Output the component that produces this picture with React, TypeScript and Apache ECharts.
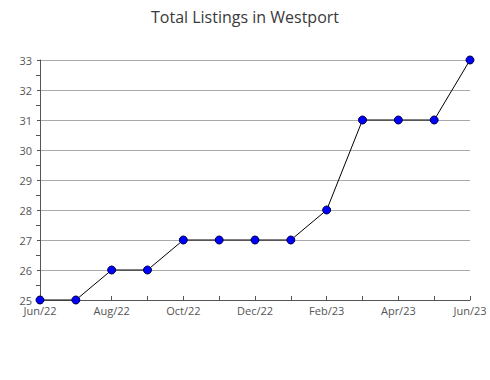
import React, { useEffect, useRef } from "react";
import * as echarts from "echarts";

const categories = ["Jun/22","Jul/22","Aug/22","Sep/22","Oct/22","Nov/22","Dec/22","Jan/23","Feb/23","Mar/23","Apr/23","May/23","Jun/23"];
const listings = [25, 25, 26, 26, 27, 27, 27, 27, 28, 31, 31, 31, 33];
const titleText = "Total Listings in Westport";

export default function App() {
  const ref = useRef<HTMLDivElement>(null);
  useEffect(() => {
    if (!ref.current) return;
    const chart = echarts.init(ref.current, null, { renderer: "svg" });
    chart.setOption({
      animation: false,
      backgroundColor: "#ffffff",
      title: {
        text: titleText,
        left: "center",
        top: 4,
        textStyle: { fontFamily: "Open Sans", fontSize: 16, fontWeight: "normal", color: "#3a3a3a" },
      },
      grid: { left: 40, right: 20, top: 60, bottom: 80 },
      xAxis: {
        type: "category",
        data: categories,
        boundaryGap: false,
        axisLine: { lineStyle: { color: "#555555", width: 1 } },
        axisTick: { show: true, inside: true, interval: 0, length: 4, lineStyle: { color: "#555555" } },
        axisLabel: { interval: 1, color: "#555555", fontFamily: "Open Sans", fontSize: 11, margin: 5 },
        splitLine: { show: false },
      },
      yAxis: {
        type: "value",
        min: 25,
        max: 33,
        interval: 1,
        axisLine: { show: true, lineStyle: { color: "#555555", width: 1 } },
        axisTick: { show: true, length: 3, lineStyle: { color: "#555555" } },
        minorTick: { show: true, splitNumber: 2, length: 4, lineStyle: { color: "#555555" } },
        axisLabel: { color: "#555555", fontFamily: "Open Sans", fontSize: 11, margin: 8 },
        splitLine: { show: true, lineStyle: { color: "#aaaaaa", width: 1 } },
      },
      series: [
        {
          type: "line",
          data: listings,
          symbol: "circle",
          symbolSize: 8,
          lineStyle: { color: "#000000", width: 1 },
          itemStyle: { color: "#0000ff", borderColor: "#000044", borderWidth: 1 },
        },
      ],
    });
    return () => chart.dispose();
  }, []);
  return <div ref={ref} style={{ width: 490, height: 380, position: "absolute", left: 0, top: 0 }} />;
}
